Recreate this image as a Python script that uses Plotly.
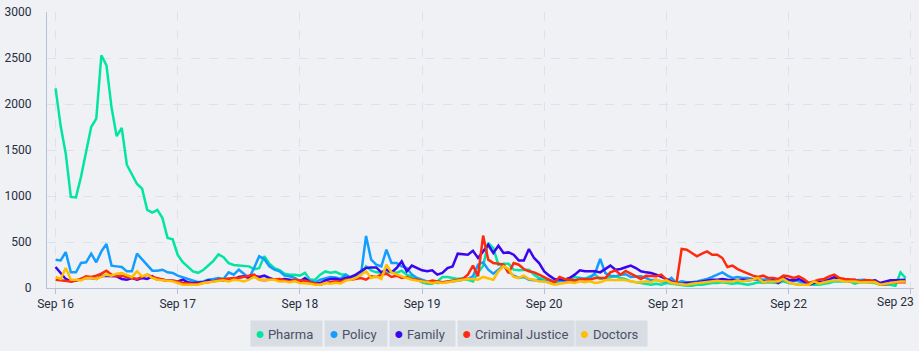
import pandas as pd
import plotly.graph_objects as go

start = "2023-09-16 00:00"
n_hours = 168

pharma = [2170, 1760, 1460, 990, 985, 1210, 1480, 1750, 1840, 2530, 2420, 1960, 1650, 1740, 1340, 1240, 1130, 1080, 850, 820, 850, 760, 545, 530, 360, 280, 235, 180,
          165, 195, 245, 295, 365, 335, 270, 250, 245, 240, 235, 205, 215, 345, 265, 215, 195, 155, 145, 145, 135, 165, 90, 90, 145, 180, 165, 175, 150,
          145, 116, 127, 145, 235, 192, 170, 163, 163, 181, 163, 188, 145, 120, 90, 62, 47, 47, 72, 120, 120, 109, 98, 109, 90, 72, 170, 240,
          489, 434, 253, 264, 264, 199, 192, 192, 199, 145, 109, 98, 90, 72, 72, 90, 109, 120, 109, 98, 127, 145, 98, 109, 120, 127, 109, 95,
          72, 62, 54, 47, 36, 47, 36, 54, 47, 36, 36, 25, 25, 36, 36, 47, 54, 54, 62, 54, 47, 54, 47, 36, 47, 62, 54, 62, 58,
          54, 72, 54, 47, 36, 36, 36, 36, 36, 47, 54, 72, 72, 72, 72, 47, 62, 62, 54, 54, 36, 36, 36, 25, 170, 109]

policy = [308, 300, 391, 170, 170, 272, 279, 373, 279, 398, 478, 243, 235, 228, 181, 181, 373, 308, 253, 188, 188, 199, 170, 163, 134, 116, 98, 72,
          62, 72, 90, 98, 109, 98, 170, 145, 199, 156, 109, 217, 344, 315, 235, 199, 181, 134, 127, 109, 72, 98, 80, 62, 90, 109, 120, 115, 100,
          145, 109, 120, 145, 565, 308, 253, 235, 416, 271, 271, 235, 217, 145, 109, 90, 72, 62, 54, 60, 65, 70, 80, 90, 100, 127, 253, 280,
          199, 156, 199, 243, 181, 134, 109, 120, 90, 83, 90, 72, 83, 62, 83, 72, 83, 72, 109, 98, 109, 163, 315, 163, 134, 127, 145, 150,
          120, 120, 127, 109, 83, 90, 72, 72, 109, 54, 72, 62, 62, 72, 83, 98, 120, 145, 170, 134, 109, 120, 109, 109, 98, 98, 90, 98, 90,
          72, 90, 72, 83, 72, 54, 36, 54, 62, 72, 98, 109, 90, 83, 83, 83, 90, 90, 72, 83, 47, 36, 54, 62, 72, 62]

family = [228, 163, 98, 72, 80, 98, 109, 109, 98, 134, 134, 134, 127, 98, 90, 109, 90, 109, 98, 127, 90, 90, 80, 80, 72, 90, 62, 54,
          54, 62, 83, 72, 90, 83, 98, 90, 120, 127, 109, 134, 120, 134, 109, 90, 90, 98, 90, 83, 72, 109, 62, 47, 54, 83, 98, 100, 88,
          109, 120, 145, 181, 217, 224, 224, 170, 199, 170, 217, 290, 181, 243, 217, 192, 181, 192, 145, 163, 217, 235, 373, 369, 362, 405, 326, 398,
          470, 380, 460, 380, 387, 362, 300, 300, 424, 326, 271, 181, 134, 98, 98, 90, 109, 145, 192, 181, 181, 181, 170, 206, 243, 199, 206, 225,
          243, 217, 181, 170, 163, 145, 120, 90, 72, 54, 47, 54, 54, 62, 72, 83, 90, 90, 98, 90, 83, 83, 90, 83, 90, 98, 72, 72, 83,
          54, 109, 90, 83, 98, 72, 36, 54, 62, 72, 90, 120, 90, 98, 72, 90, 72, 80, 72, 83, 54, 72, 83, 83, 90, 90]

criminal_justice = [90, 83, 72, 72, 80, 98, 127, 120, 134, 156, 188, 145, 127, 134, 120, 109, 98, 120, 145, 120, 109, 90, 80, 80, 72, 54, 47, 43,
                    47, 54, 62, 72, 90, 98, 98, 109, 109, 120, 134, 145, 90, 83, 90, 90, 98, 83, 72, 90, 83, 80, 62, 47, 36, 54, 62, 72, 68,
                    90, 90, 98, 109, 90, 127, 120, 145, 156, 120, 134, 109, 120, 98, 90, 72, 62, 80, 72, 62, 72, 80, 90, 98, 145, 243, 127, 570,
                    308, 271, 264, 253, 163, 271, 253, 206, 181, 170, 145, 120, 90, 62, 120, 98, 90, 83, 90, 98, 90, 109, 109, 109, 170, 192, 145, 185,
                    156, 127, 98, 134, 134, 127, 145, 90, 62, 54, 424, 416, 380, 344, 373, 398, 362, 362, 326, 228, 243, 206, 181, 156, 134, 120, 134, 109, 109,
                    98, 134, 127, 109, 127, 98, 54, 72, 90, 98, 127, 145, 109, 98, 90, 90, 72, 83, 83, 72, 36, 47, 54, 62, 62, 62]

doctors = [120, 98, 217, 90, 90, 83, 109, 109, 98, 120, 145, 134, 156, 163, 145, 120, 181, 127, 145, 109, 90, 83, 72, 72, 54, 36, 36, 36,
           36, 54, 62, 72, 80, 83, 72, 90, 83, 72, 90, 120, 90, 90, 98, 90, 72, 72, 62, 72, 54, 54, 47, 36, 36, 54, 47, 58, 50,
           80, 90, 109, 145, 181, 109, 127, 98, 253, 170, 145, 127, 109, 90, 80, 72, 62, 54, 62, 54, 62, 72, 83, 90, 98, 98, 90, 120,
           109, 90, 181, 235, 206, 120, 109, 134, 98, 90, 72, 72, 54, 36, 47, 54, 62, 54, 72, 62, 72, 54, 62, 83, 90, 83, 90, 83,
           72, 62, 62, 72, 62, 90, 72, 83, 54, 47, 36, 36, 47, 54, 62, 62, 72, 80, 72, 72, 72, 83, 72, 83, 90, 109, 62, 72, 72,
           72, 98, 62, 47, 36, 36, 36, 72, 47, 62, 72, 83, 83, 72, 72, 72, 62, 62, 62, 62, 36, 47, 54, 62, 72, 72]

series_names = ["Pharma", "Policy", "Family", "Criminal Justice", "Doctors"]
series_values = [pharma, policy, family, criminal_justice, doctors]
series_colors = ["#02e5a2", "#139dff", "#3a06f0", "#ff2a0d", "#ffbf00"]

tick_days = pd.date_range("2023-09-16", "2023-09-23", freq="D")
tick_labels = [d.strftime("%b %d") for d in tick_days]

times = pd.date_range(start, periods=n_hours, freq="h")

BG = "#eff1f4"
TXT = "#262c3d"
fig = go.Figure()
for name, vals, col in zip(series_names, series_values, series_colors):
    fig.add_trace(go.Scatter(x=times, y=vals[:n_hours], mode="lines", name=name,
                             line=dict(color=col, width=2.5), showlegend=False))

W, H = 919, 351
ml, mr, mt, mb = 46, 5, 9, 62.5
pw = W - ml - mr
ph = H - mt - mb

# legend boxes (left px, width px)
box_left = [249, 323, 388, 456, 575]
box_w = [71, 62, 65, 116, 71]
box_cy = 334.5
pad = 4
for name, col, bl, bw in zip(series_names, series_colors, box_left, box_w):
    fig.add_annotation(
        xref="paper", yref="paper",
        x=(bl - ml) / pw, y=(H - mb - box_cy) / ph,
        xanchor="left", yanchor="middle",
        text=f"<span style='color:{col};font-size:16px'>●</span> {name}",
        showarrow=False, align="left",
        width=bw - 2 * pad, height=25 - 2 * pad,
        bgcolor="#d8dce3", borderpad=pad,
        font=dict(family="Roboto", size=13, color="#4b5166"),
    )

# last day label is drawn inside the page edge, as in the reference
fig.add_annotation(
    xref="x", yref="paper", x=tick_days[-1], y=0, xanchor="right", yanchor="top",
    xshift=5, yshift=-5, text=tick_labels[-1], showarrow=False,
    font=dict(family="Roboto", size=12, color=TXT),
)

fig.update_layout(
    width=W, height=H,
    margin=dict(l=ml, r=mr, t=mt, b=mb),
    paper_bgcolor=BG, plot_bgcolor=BG,
    font=dict(family="Roboto", size=12, color=TXT),
)
fig.update_xaxes(
    range=[pd.Timestamp("2023-09-16") - pd.Timedelta(minutes=101),
           pd.Timestamp("2023-09-23") + pd.Timedelta(minutes=39)],
    tickvals=list(tick_days), ticktext=tick_labels[:-1] + [""],
    showgrid=True, gridcolor="#dde1e9", griddash="dash", gridwidth=1,
    showline=True, linecolor="#b6c1d6", linewidth=1,
    ticks="outside", ticklen=5, tickcolor="#b6c1d6",
    zeroline=False,
    tickfont=dict(family="Roboto", size=12, color=TXT),
)
fig.update_yaxes(
    range=[0, 3000], dtick=500,
    showgrid=True, gridcolor="#dde1e9", griddash="dash", gridwidth=1,
    showline=True, linecolor="#b6c1d6", linewidth=1,
    zeroline=False, ticklabelstandoff=12,
    tickfont=dict(family="Roboto", size=12, color=TXT),
)

fig.write_html("out.html")
